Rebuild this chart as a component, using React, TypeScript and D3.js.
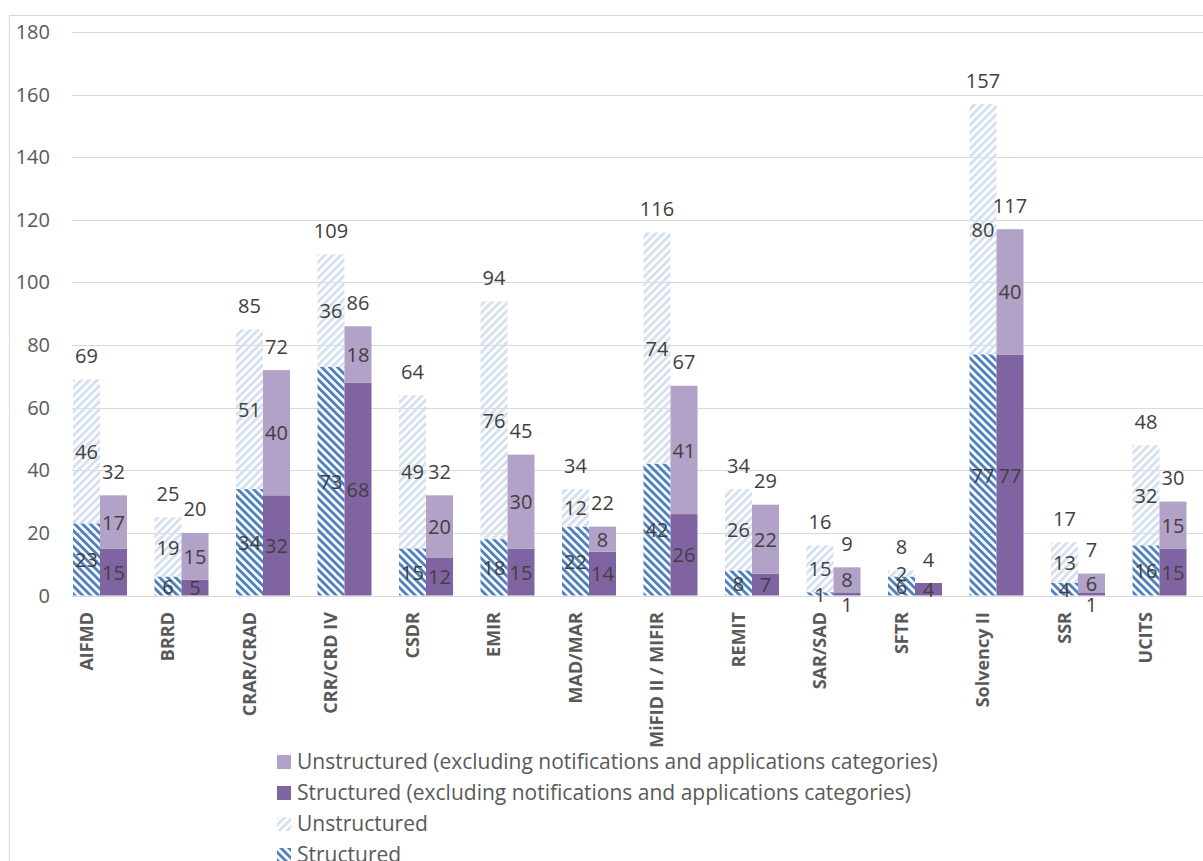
import React, { useEffect, useRef } from 'react';
import * as d3 from 'd3';

const categories = [
  'AIFMD', 'BRRD', 'CRAR/CRAD', 'CRR/CRD IV', 'CSDR', 'EMIR', 'MAD/MAR',
  'MiFID II / MIFIR', 'REMIT', 'SAR/SAD', 'SFTR', 'Solvency II', 'SSR', 'UCITS'
];
const structured = [23, 6, 34, 73, 15, 18, 22, 42, 8, 1, 6, 77, 4, 16];
const unstructured = [46, 19, 51, 36, 49, 76, 12, 74, 26, 15, 2, 80, 13, 32];
const structuredExcl = [15, 5, 32, 68, 12, 15, 14, 26, 7, 1, 4, 77, 1, 15];
const unstructuredExcl = [17, 15, 40, 18, 20, 30, 8, 41, 22, 8, 0, 40, 6, 15];
const yTicks = [0, 20, 40, 60, 80, 100, 120, 140, 160, 180];
const legendLabels = [
  'Unstructured (excluding notifications and applications categories)',
  'Structured (excluding notifications and applications categories)',
  'Unstructured',
  'Structured'
];

const W = 1203;
const H = 861;
const FONT = "'Open Sans', 'Noto Sans', sans-serif";

const App: React.FC = () => {
  const svgRef = useRef<SVGSVGElement>(null);

  useEffect(() => {
    const svg = d3.select(svgRef.current);
    svg.selectAll('*').remove();

    const rows = categories.map((c, i) => ({
      cat: c,
      s: structured[i],
      u: unstructured[i],
      se: structuredExcl[i],
      ue: unstructuredExcl[i]
    }));

    // hatch patterns
    const defs = svg.append('defs');
    const dk = defs.append('pattern')
      .attr('id', 'dkHatch')
      .attr('patternUnits', 'userSpaceOnUse')
      .attr('width', 5.6).attr('height', 5.6)
      .attr('patternTransform', 'rotate(-45)');
    dk.append('rect').attr('width', 2.9).attr('height', 5.6).attr('fill', '#4f81bd');
    const lt = defs.append('pattern')
      .attr('id', 'ltHatch')
      .attr('patternUnits', 'userSpaceOnUse')
      .attr('width', 5.6).attr('height', 5.6)
      .attr('patternTransform', 'rotate(45)');
    lt.append('rect').attr('width', 2.9).attr('height', 5.6).attr('fill', '#d5e0ef');

    // background + border
    svg.append('rect')
      .attr('x', 9.5).attr('y', 15.5)
      .attr('width', 1400).attr('height', 1000)
      .attr('fill', '#fff')
      .attr('stroke', '#d9d9d9');

    const pad = 27.5 / 81.5;
    const x = d3.scaleBand<string>()
      .domain(categories)
      .range([73, 73 + 81.5 * (categories.length - pad)])
      .paddingInner(pad)
      .paddingOuter(0);
    const sub = d3.scaleBand<string>()
      .domain(['all', 'excl'])
      .range([0, x.bandwidth()]);
    const y = d3.scaleLinear().domain([0, 180]).range([595.5, 32]);

    // gridlines
    svg.append('g').selectAll('line')
      .data(yTicks)
      .enter()
      .append('line')
      .attr('x1', 72).attr('x2', W)
      .attr('y1', d => Math.round(y(d)) + 0.5)
      .attr('y2', d => Math.round(y(d)) + 0.5)
      .attr('stroke', '#d9d9d9')
      .attr('stroke-width', 1);

    svg.append('g').selectAll('text')
      .data(yTicks)
      .enter()
      .append('text')
      .attr('x', 50)
      .attr('y', d => y(d))
      .attr('dy', '0.35em')
      .attr('text-anchor', 'end')
      .style('font-family', FONT)
      .style('font-size', '20px')
      .style('fill', '#595959')
      .text(d => d);

    const groups = [
      { keys: ['s', 'u'], fills: ['url(#dkHatch)', 'url(#ltHatch)'], slot: 'all' },
      { keys: ['se', 'ue'], fills: ['#8064a2', '#b3a2c7'], slot: 'excl' }
    ];

    const labelLayer = svg.append('g');
    groups.forEach(grp => {
      const stacked = d3.stack<any>().keys(grp.keys)(rows);
      stacked.forEach((layer, li) => {
        svg.append('g').selectAll('rect')
          .data(layer)
          .enter()
          .append('rect')
          .attr('x', d => (x(d.data.cat) || 0) + (sub(grp.slot) || 0))
          .attr('width', sub.bandwidth())
          .attr('y', d => y(d[1]))
          .attr('height', d => y(d[0]) - y(d[1]))
          .attr('fill', grp.fills[li]);

        labelLayer.selectAll(`.lbl-${grp.keys[li]}`)
          .data(layer.filter(d => d[1] - d[0] > 0))
          .enter()
          .append('text')
          .attr('class', `lbl-${grp.keys[li]}`)
          .attr('x', d => (x(d.data.cat) || 0) + (sub(grp.slot) || 0) + sub.bandwidth() / 2)
          .attr('y', d => {
            // tiny bottom segments of the purple bars get their label pushed below the axis
            const tiny = grp.slot === 'excl' && li === 0 && y(d[0]) - y(d[1]) < 8;
            return tiny ? y(0) + 9 : y((d[0] + d[1]) / 2);
          })
          .attr('dy', '0.38em')
          .attr('text-anchor', 'middle')
          .style('font-family', FONT)
          .style('font-size', '20px')
          .style('fill', '#404040')
          .text(d => d[1] - d[0]);
      });

      // totals above bars
      labelLayer.selectAll(`.tot-${grp.slot}`)
        .data(rows)
        .enter()
        .append('text')
        .attr('class', `tot-${grp.slot}`)
        .attr('x', d => (x(d.cat) || 0) + (sub(grp.slot) || 0) + sub.bandwidth() / 2)
        .attr('y', d => y(d3.sum(grp.keys, k => (d as any)[k])) - 24)
        .attr('dy', '0.38em')
        .attr('text-anchor', 'middle')
        .style('font-family', FONT)
        .style('font-size', '20px')
        .style('fill', '#404040')
        .text(d => d3.sum(grp.keys, k => (d as any)[k]));
    });
    labelLayer.raise();

    // category labels
    svg.append('g').selectAll('text')
      .data(categories)
      .enter()
      .append('text')
      .attr('transform', d => {
        const cx = (x(d) || 0) + (sub('all') || 0) + sub.bandwidth() / 2;
        return `translate(${cx},612) rotate(-90)`;
      })
      .attr('dy', '0.35em')
      .attr('text-anchor', 'end')
      .style('font-family', FONT)
      .style('font-size', '18px')
      .style('font-weight', 'bold')
      .style('fill', '#595959')
      .text(d => d);

    // legend
    const legendFills = ['#b3a2c7', '#8064a2', 'url(#ltHatch)', 'url(#dkHatch)'];
    const legend = svg.append('g');
    const items = legend.selectAll('g')
      .data(legendLabels)
      .enter()
      .append('g')
      .attr('transform', (d, i) => `translate(277, ${769 + i * 31})`);
    items.append('rect')
      .attr('y', -14)
      .attr('width', 14)
      .attr('height', 14)
      .attr('fill', (d, i) => legendFills[i]);
    items.append('text')
      .attr('x', 20)
      .style('font-family', FONT)
      .style('font-size', '21px')
      .style('fill', '#595959')
      .text(d => d);
  }, []);

  return (
    <svg
      ref={svgRef}
      width={W}
      height={H}
      style={{ position: 'absolute', left: 0, top: 0, display: 'block' }}
    />
  );
};

export default App;
